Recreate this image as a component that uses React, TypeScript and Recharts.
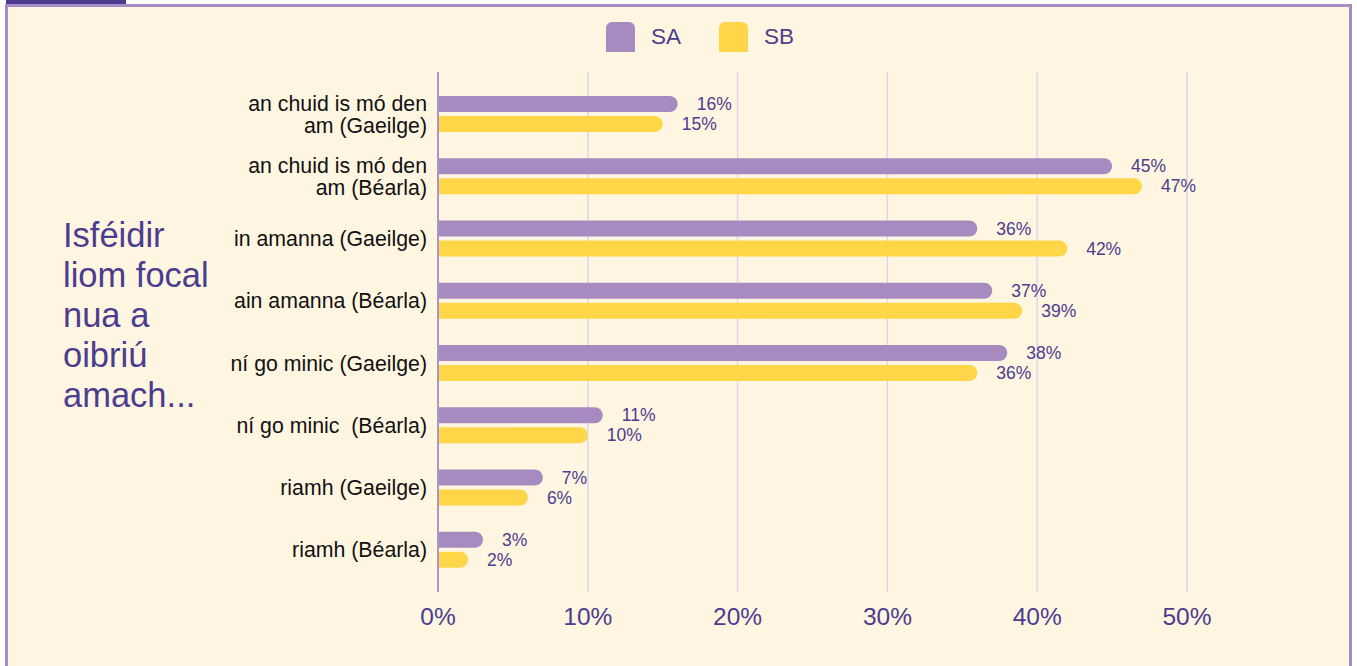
import React from 'react';
import { BarChart, Bar, XAxis, YAxis, CartesianGrid, LabelList } from 'recharts';

// categories (explicit line breaks where the original wraps)
const categories: string[] = [
  'an chuid is mó den\nam (Gaeilge)',
  'an chuid is mó den\nam (Béarla)',
  'in amanna (Gaeilge)',
  'ain amanna (Béarla)',
  'ní go minic (Gaeilge)',
  'ní go minic  (Béarla)',
  'riamh (Gaeilge)',
  'riamh (Béarla)',
];

const saValues: number[] = [16, 45, 36, 37, 38, 11, 7, 3];
const sbValues: number[] = [15, 47, 42, 39, 36, 10, 6, 2];

const xTicks: number[] = [0, 10, 20, 30, 40, 50];

const titleLines: string[] = ['Isféidir', 'liom focal', 'nua a', 'oibriú', 'amach...'];

const FONT = '"Liberation Sans", Arial, Helvetica, sans-serif';
const INK = '#4B3C8F';
const SA_COLOR = '#A78ABF';
const SB_COLOR = '#FFD648';

const data = categories.map((name, i) => ({ name, SA: saValues[i], SB: sbValues[i] }));

const CategoryTick = (props: any) => {
  const { x, y, payload } = props;
  const lines: string[] = String(payload.value).split('\n');
  const lh = 22;
  return (
    <g>
      {lines.map((line, i) => (
        <text
          key={i}
          x={x}
          y={y + (i - (lines.length - 1) / 2) * lh}
          dy="0.35em"
          textAnchor="end"
          fill="#111"
          fontSize={21.3}
          fontFamily={FONT}
          style={{ whiteSpace: 'pre' }}
        >
          {line}
        </text>
      ))}
    </g>
  );
};

const App: React.FC = () => {
  return (
    <div
      style={{
        position: 'absolute',
        left: 0,
        top: 0,
        width: 1357,
        height: 666,
        overflow: 'hidden',
        background: '#fff',
        fontFamily: FONT,
      }}
    >
      <div style={{ position: 'absolute', left: 6, top: 0, width: 120, height: 4, background: INK }} />
      <div
        style={{
          position: 'absolute',
          left: 5,
          top: 4,
          width: 1341,
          height: 720,
          border: '3px solid #A88CC5',
          background: '#FFF6E1',
        }}
      />

      {/* left title */}
      <div
        style={{
          position: 'absolute',
          left: 63,
          top: 215,
          fontSize: 34.5,
          lineHeight: '40px',
          color: INK,
        }}
      >
        {titleLines.map((l) => (
          <div key={l}>{l}</div>
        ))}
      </div>

      {/* legend */}
      <div
        style={{
          position: 'absolute',
          left: 606,
          top: 22,
          display: 'flex',
          alignItems: 'center',
          fontSize: 22.5,
          color: INK,
        }}
      >
        {[
          { label: 'SA', color: SA_COLOR },
          { label: 'SB', color: SB_COLOR },
        ].map((item, i) => (
          <div key={item.label} style={{ display: 'flex', alignItems: 'center', marginRight: i === 0 ? 38 : 0 }}>
            <div
              style={{
                width: 29,
                height: 30,
                background: item.color,
                borderRadius: '6px 6px 0 0',
                marginRight: 16,
              }}
            />
            <span>{item.label}</span>
          </div>
        ))}
      </div>

      <div style={{ position: 'absolute', left: 0, top: 0 }}>
        <BarChart
          width={1357}
          height={666}
          data={data}
          layout="vertical"
          margin={{ top: 72, right: 170, left: 0, bottom: 34 }}
          barSize={16}
          barGap={4}
        >
          <CartesianGrid horizontal={false} stroke="#DDD6EA" strokeWidth={1.5} />
          <XAxis
            type="number"
            domain={[0, 50]}
            ticks={xTicks}
            tickFormatter={(v) => `${v}%`}
            axisLine={false}
            tickLine={false}
            tickMargin={10}
            height={40}
            tick={{ fill: INK, fontSize: 24.5, fontFamily: FONT }}
          />
          <YAxis
            type="category"
            dataKey="name"
            width={438}
            padding={{ top: 11, bottom: 11 }}
            axisLine={{ stroke: '#A896CC', strokeWidth: 2 }}
            tickLine={false}
            tickSize={0}
            tickMargin={11}
            tick={<CategoryTick />}
            interval={0}
          />
          <Bar dataKey="SA" fill={SA_COLOR} radius={[0, 8, 8, 0]} isAnimationActive={false}>
            <LabelList
              dataKey="SA"
              position="right"
              offset={19}
              formatter={(v: any) => `${v}%`}
              fill={INK}
              fontSize={17.5}
              fontFamily={FONT}
            />
          </Bar>
          <Bar dataKey="SB" fill={SB_COLOR} radius={[0, 8, 8, 0]} isAnimationActive={false}>
            <LabelList
              dataKey="SB"
              position="right"
              offset={19}
              formatter={(v: any) => `${v}%`}
              fill={INK}
              fontSize={17.5}
              fontFamily={FONT}
            />
          </Bar>
        </BarChart>
      </div>
    </div>
  );
};

export default App;
